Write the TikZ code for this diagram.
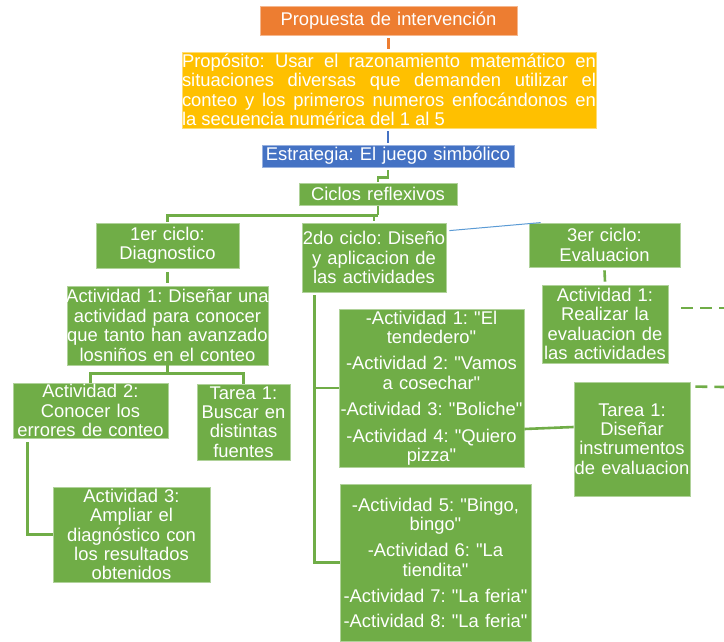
\documentclass[tikz,border=0pt]{standalone}
\usepackage{fontspec}
\setmainfont{Liberation Sans}
\newfontfamily\arial{Liberation Sans}
\usetikzlibrary{calc}
\frenchspacing
\definecolor{corange}{HTML}{ED7D31}
\definecolor{cyellow}{HTML}{FFC000}
\definecolor{cblue}{HTML}{4472C4}
\definecolor{cgreen}{HTML}{70AD47}
\definecolor{clblue}{HTML}{5B9BD5}
\newcommand\bfs{\arial\fontsize{18.4}{19.4}\selectfont\frenchspacing}
\tikzset{
  box/.style={rectangle, line width=0.8pt, text=white, inner ysep=0pt, inner xsep=-4pt, align=center, font=\bfs},
  gbox/.style={box, fill=cgreen, draw=cgreen!55!white},
  gline/.style={draw=cgreen, line width=2.6pt},
  dline/.style={gline, dash pattern=on 12pt off 7pt},
}
\begin{document}
\begin{tikzpicture}[x=1pt,y=-1pt]
\useasboundingbox[fill=white] (0,0) rectangle (724,641);
% top chain
\node[box, fill=corange, draw=corange!55!white, text width=265pt, minimum height=29pt] (prop) at (388.5,20.5) {Propuesta de intervención};
\node[box, fill=cyellow, draw=cyellow!55!white, text width=414pt, inner xsep=0pt, minimum height=76pt, align=justify] (purp) at (389,90)
  {Propósito: Usar el razonamiento matemático en\linebreak situaciones diversas que demanden utilizar el\linebreak conteo y los primeros numeros enfocándonos en\linebreak la secuencia numérica del 1 al 5};
\node[box, fill=cblue, draw=cblue!55!white, text width=260pt, minimum height=22pt] (estr) at (388,156) {Estrategia: El juego simbólico};
\node[gbox, text width=166pt, minimum height=22pt] (cic) at (378,194) {Ciclos reflexivos};
% cycles
\node[gbox, text width=151pt, minimum height=45pt] (c1) at (167.5,245.5) {1er ciclo:\\Diagnostico};
\node[gbox, text width=152pt, minimum height=69pt] (c2) at (374,257.5) {2do ciclo: Diseño\\y aplicacion de\\las actividades};
\node[gbox, text width=159pt, minimum height=44pt] (c3) at (604.5,245) {3er ciclo:\\Evaluacion};
% first cycle
\node[gbox, text width=209pt, minimum height=79pt] (a1) at (167.5,325.5) {Actividad 1: Diseñar una\\actividad para conocer\\que tanto han avanzado\\losniños en el conteo};
\node[gbox, text width=163pt, minimum height=55pt] (a2) at (90.5,410.5) {Actividad 2:\\Conocer los\\errores de conteo};
\node[gbox, text width=101pt, minimum height=76pt] (t1) at (243.5,422) {Tarea 1:\\Buscar en\\distintas\\fuentes};
\node[gbox, text width=165pt, minimum height=95pt] (a3) at (131.5,534.5) {Actividad 3:\\Ampliar el\\diagnóstico con\\los resultados\\obtenidos};
% second cycle
\node[gbox, text width=193pt, minimum height=158pt] (bA) at (431.5,388) {-Actividad 1: "El\\tendedero"\\[7pt]-Actividad 2: "Vamos\\a cosechar"\\[7pt]-Actividad 3: "Boliche"\\[7pt]-Actividad 4: "Quiero\\pizza"};
\node[gbox, text width=199pt, minimum height=157pt] (bB) at (435.5,562.5) {-Actividad 5: "Bingo,\\bingo"\\[7pt]-Actividad 6: "La\\tiendita"\\[7pt]-Actividad 7: "La feria"\\[5pt]-Actividad 8: "La feria"};
% third cycle
\node[gbox, text width=134pt, minimum height=78pt] (e1) at (605,324) {Actividad 1:\\Realizar la\\evaluacion de\\las actividades};
\node[gbox, text width=124pt, minimum height=114pt] (t3) at (632,439) {Tarea 1:\\Diseñar\\instrumentos\\de evaluacion};
% connectors
\draw[line width=2.6pt, draw=corange] ($(prop.south)+(0,3)$) -- ($(prop.south |- purp.north)+(0,-3)$);
\draw[line width=2.6pt, draw=cblue] ($(purp.south)+(-1,3)$) -- ($(purp.south |- estr.north)+(-1,-2)$);
\draw[gline] ($(estr.south)+(0,3)$) |- ($(cic.north)+(0,-5)$) -- ($(cic.north)+(0,-1)$);
\draw[gline] ($(cic.south)+(0,1)$) -- ($(cic.south)+(0,10)$) coordinate (j);
\draw[gline] (j) -| ($(c1.north)+(0,-1)$);
\draw[gline] (j) -| ($(c2.north)+(0,-2)$);
\draw[gline] ($(c1.south)+(0,4)$) -- ($(a1.north)+(0,-3)$);
\draw[gline] (a1.south) -- ($(a1.south)+(0,8)$) coordinate (k);
\draw[gline] (k) -| (a2.north);
\draw[gline] (k) -| (t1.north);
\draw[gline] ($(a2.south west)+(15,4)$) |- (a3.west);
\draw[gline] ($(c2.south west)+(13,3)$) coordinate (v) |- (bB.west);
\draw[gline] (v |- bA.west) -- (bA.west);
\draw[line width=1pt, draw=clblue] ($(c2.north east)+(3,8)$) -- ($(c3.north west)+(12,0)$);
\draw[gline] ($(c3.south)+(0,3)$) -- ($(e1.north)+(0,-3)$);
\draw[gline] ($(bA.east)+(0,41)$) -- ($(t3.west)+(0,-12)$);
\coordinate (d1) at (724,308);
\coordinate (d2) at (724,387);
\draw[dline] ($(e1.east)+(13,-16)$) -- (d1);
\draw[dline] ($(t3.north east)+(5,5)$) -- (d2);
\end{tikzpicture}
\end{document}
